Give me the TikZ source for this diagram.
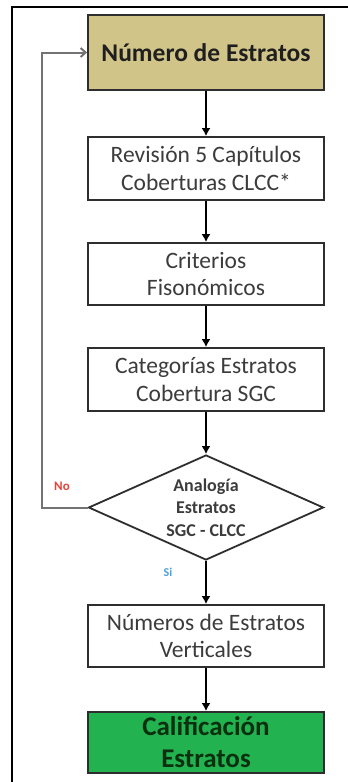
\documentclass[tikz,border=0pt]{standalone}
\usepackage{fontspec}
\setmainfont{Carlito}
\usetikzlibrary{shapes.geometric,arrows.meta}
\definecolor{khaki}{HTML}{D1C489}
\definecolor{boxgreen}{HTML}{22B24F}
\definecolor{txtgray}{HTML}{3C3C3C}
\definecolor{darkgreen}{HTML}{0B300F}
\definecolor{borderc}{HTML}{2E2E2E}
\definecolor{nored}{HTML}{E8403A}
\definecolor{siblue}{HTML}{4AA2DA}
\tikzset{
  procbox/.style={draw=borderc, line width=1.8pt, fill=white, minimum width=236pt, inner sep=0pt, align=center, text=txtgray, font=\fontsize{23.5}{27.5}\selectfont},
  flowarrow/.style={line width=2pt, draw=black, -{Latex[length=8pt,width=9pt]}},
  loopline/.style={line width=2pt, draw=black!55, -{Straight Barb[length=5pt,width=9pt]}},
}
\begin{document}
\begin{tikzpicture}[x=1pt,y=-1pt]
\useasboundingbox (0,0) rectangle (348,782);
\fill[white] (0,0) rectangle (348,782);
% outer frame (partly cropped)
\draw[line width=2.6pt] (12,782) -- (12,7) -- (348,7);

\node[procbox, fill=khaki, minimum height=75pt, text=black!88, font=\fontsize{25.5}{27}\selectfont\bfseries] (b1) at (206,52.5) {Número de Estratos};
\node[procbox, minimum height=63pt] (b2) at (206,168.5) {Revisión 5 Capítulos\\Coberturas CLCC*};
\node[procbox, minimum height=62pt] (b3) at (206,274) {Criterios\\Fisonómicos};
\node[procbox, minimum height=63pt] (b4) at (206,379.5) {Categorías Estratos\\Cobertura SGC};
\node[diamond, draw=borderc, line width=1.8pt, fill=white, minimum width=235pt, minimum height=105pt, aspect=2.24, inner sep=0pt, align=center, text=txtgray, font=\fontsize{18}{22.5}\selectfont\bfseries] (dia) at (206,507.5) {Analogía\\Estratos\\SGC - CLCC};
\node[procbox, minimum height=62pt] (b5) at (206,636) {Números de Estratos\\Verticales};
\node[procbox, fill=boxgreen, minimum height=61pt, text=darkgreen, font=\fontsize{27}{32}\selectfont\bfseries] (b6) at (206,742.5) {Calificación\\Estratos};

\draw[flowarrow] (b1.south) -- (b2.north);
\draw[flowarrow] (b2.south) -- (b3.north);
\draw[flowarrow] (b3.south) -- (b4.north);
\draw[flowarrow] (b4.south) -- (dia.north);
\draw[flowarrow] (dia.south) -- (b5.north);
\draw[flowarrow] (b5.south) -- (b6.north);

\coordinate (lp) at (42,507.5);
\draw[loopline] (dia.west) -- (lp) |- (b1.west);

\node[text=nored, font=\fontsize{13}{15}\selectfont\bfseries] (no) at (62,486) {No};
\node[text=siblue, font=\fontsize{12}{14}\selectfont\bfseries] (si) at (168,572) {Si};
\end{tikzpicture}
\end{document}
